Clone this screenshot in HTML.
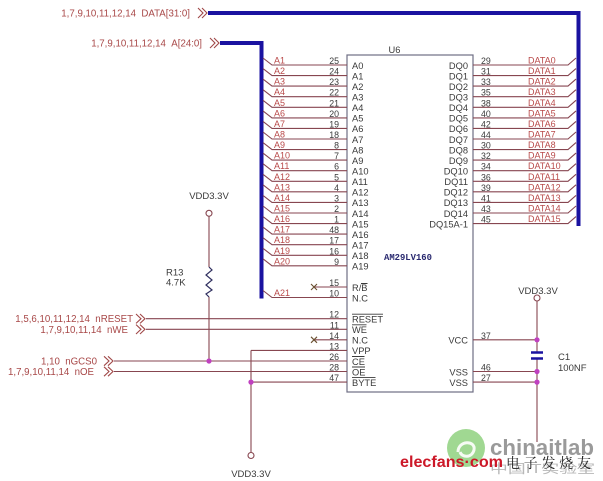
<!DOCTYPE html>
<html><head><meta charset="utf-8">
<style>
html,body{margin:0;padding:0;background:#fff;}
svg{display:block;}
text{font-family:"Liberation Sans",Arial,sans-serif;}
.net{font-size:9px;fill:#b94a4a;}
.pin{font-size:8.8px;fill:#3a3a3a;}
.lbl{font-size:9.3px;fill:#3a3a3a;}
.sig{font-size:9.7px;fill:#a84848;}
.vdd{font-size:9.5px;fill:#3a3a3a;}
</style></head>
<body>
<svg width="603" height="481" viewBox="0 0 603 481" xmlns="http://www.w3.org/2000/svg">
<rect width="603" height="481" fill="#fff"/>

<!-- Buses -->
<path d="M208,13H578.5V226" fill="none" stroke="#1a12a0" stroke-width="4"/>
<path d="M220,43H261.5V298.5" fill="none" stroke="#1a12a0" stroke-width="4"/>

<!-- bus labels & chevrons -->
<text class="sig" x="190" y="16.5" text-anchor="end">1,7,9,10,11,12,14&#160;&#160;DATA[31:0]</text>
<polyline points="198,8 203,13 198,18" fill="none" stroke="#a04848" stroke-width="1.1"/>
<polyline points="202,8 207,13 202,18" fill="none" stroke="#a04848" stroke-width="1.1"/>
<text class="sig" x="202" y="46.5" text-anchor="end">1,7,9,10,11,12,14&#160;&#160;A[24:0]</text>
<polyline points="210,38 215,43 210,48" fill="none" stroke="#a04848" stroke-width="1.1"/>
<polyline points="214,38 219,43 214,48" fill="none" stroke="#a04848" stroke-width="1.1"/>

<!-- Chip box -->
<rect x="347" y="55" width="126" height="337" fill="none" stroke="#6e6e84" stroke-width="1.2"/>
<text x="394.5" y="53" class="lbl" text-anchor="middle">U6</text>
<text x="384" y="260" style="font-family:'Liberation Mono','DejaVu Sans Mono',monospace;font-size:8.9px;font-weight:bold;fill:#2a2a70;">AM29LV160</text>

<!-- Left address wires -->
<path fill="none" stroke="#874650" stroke-width="1.1" d="
M263,58L272,65H347 M263,68.6L272,75.6H347 M263,79.1L272,86.1H347 M263,89.7L272,96.7H347
M263,100.3L272,107.3H347 M263,110.9L272,117.9H347 M263,121.4L272,128.4H347 M263,132L272,139H347
M263,142.6L272,149.6H347 M263,153.1L272,160.1H347 M263,163.7L272,170.7H347 M263,174.3L272,181.3H347
M263,184.8L272,191.8H347 M263,195.4L272,202.4H347 M263,206L272,213H347 M263,216.6L272,223.6H347
M263,227.1L272,234.1H347 M263,237.7L272,244.7H347 M263,248.3L272,255.3H347 M263,258.8L272,265.8H347
M263,290.5L272,297.5H347
M314,287H347 M314,339.8H347
M146,318.7H347 M146,329.3H347
M114,361H347 M114,371.5H347
M251,350.4H347 M251,382.1H347 M251,350.4V452.5
M209,216.5V267 M209,297V361
"/>

<!-- X marks -->
<path d="M311,284L317,290M311,290L317,284 M311,336.8L317,342.8M311,342.8L317,336.8" stroke="#6a5030" stroke-width="1.1" fill="none"/>

<!-- Left net labels -->
<g class="net">
<text x="274" y="63.5">A1</text><text x="274" y="74.1">A2</text><text x="274" y="84.6">A3</text><text x="274" y="95.2">A4</text>
<text x="274" y="105.8">A5</text><text x="274" y="116.4">A6</text><text x="274" y="126.9">A7</text><text x="274" y="137.5">A8</text>
<text x="274" y="148.1">A9</text><text x="274" y="158.6">A10</text><text x="274" y="169.2">A11</text><text x="274" y="179.8">A12</text>
<text x="274" y="190.3">A13</text><text x="274" y="200.9">A14</text><text x="274" y="211.5">A15</text><text x="274" y="222.1">A16</text>
<text x="274" y="232.6">A17</text><text x="274" y="243.2">A18</text><text x="274" y="253.8">A19</text><text x="274" y="264.3">A20</text>
<text x="274" y="296">A21</text>
</g>

<!-- Left pin numbers -->
<g class="pin" text-anchor="end">
<text x="339" y="64">25</text><text x="339" y="74.6">24</text><text x="339" y="85.1">23</text><text x="339" y="95.7">22</text>
<text x="339" y="106.3">21</text><text x="339" y="116.9">20</text><text x="339" y="127.4">19</text><text x="339" y="138">18</text>
<text x="339" y="148.6">8</text><text x="339" y="159.1">7</text><text x="339" y="169.7">6</text><text x="339" y="180.3">5</text>
<text x="339" y="190.8">4</text><text x="339" y="201.4">3</text><text x="339" y="212">2</text><text x="339" y="222.6">1</text>
<text x="339" y="233.1">48</text><text x="339" y="243.7">17</text><text x="339" y="254.3">16</text><text x="339" y="264.8">9</text>
<text x="339" y="286">15</text><text x="339" y="296.5">10</text>
<text x="339" y="317.7">12</text><text x="339" y="328.3">11</text><text x="339" y="338.8">14</text><text x="339" y="349.4">13</text>
<text x="339" y="360">26</text><text x="339" y="370.5">28</text><text x="339" y="381.1">47</text>
</g>

<!-- Left box labels -->
<g class="lbl">
<text x="352" y="68.8">A0</text><text x="352" y="79.4">A1</text><text x="352" y="89.9">A2</text><text x="352" y="100.5">A3</text>
<text x="352" y="111.1">A4</text><text x="352" y="121.7">A5</text><text x="352" y="132.2">A6</text><text x="352" y="142.8">A7</text>
<text x="352" y="153.4">A8</text><text x="352" y="163.9">A9</text><text x="352" y="174.5">A10</text><text x="352" y="185.1">A11</text>
<text x="352" y="195.6">A12</text><text x="352" y="206.2">A13</text><text x="352" y="216.8">A14</text><text x="352" y="227.4">A15</text>
<text x="352" y="237.9">A16</text><text x="352" y="248.5">A17</text><text x="352" y="259.1">A18</text><text x="352" y="269.6">A19</text>
<text x="352" y="290.8">R/B</text><text x="352" y="301.3">N.C</text>
<text x="352" y="322.5">RESET</text><text x="352" y="333.1">WE</text><text x="352" y="343.6">N.C</text><text x="352" y="354.2">VPP</text>
<text x="352" y="364.8">CE</text><text x="352" y="375.3">OE</text><text x="352" y="385.9">BYTE</text>
</g>
<!-- overlines -->
<path stroke="#3a3a3a" stroke-width="0.9" fill="none" d="M361,283.5H367.5 M352,314.2H383 M352,324.8H366.5 M352,356.5H364.5 M352,367H365 M352,377.6H375.5"/>

<!-- Right data wires -->
<path fill="none" stroke="#874650" stroke-width="1.1" d="
M473,65H568L576,58 M473,75.6H568L576,68.6 M473,86.1H568L576,79.1 M473,96.7H568L576,89.7
M473,107.3H568L576,100.3 M473,117.9H568L576,110.9 M473,128.4H568L576,121.4 M473,139H568L576,132
M473,149.6H568L576,142.6 M473,160.1H568L576,153.1 M473,170.7H568L576,163.7 M473,181.3H568L576,174.3
M473,191.8H568L576,184.8 M473,202.4H568L576,195.4 M473,213H568L576,206 M473,223.6H568L576,216.6
M473,339.8H537 M473,371.5H537 M473,382.1H537
M537,301V351.5 M537,359.5V442
"/>

<g class="lbl" text-anchor="end">
<text x="468" y="68.8">DQ0</text><text x="468" y="79.4">DQ1</text><text x="468" y="89.9">DQ2</text><text x="468" y="100.5">DQ3</text>
<text x="468" y="111.1">DQ4</text><text x="468" y="121.7">DQ5</text><text x="468" y="132.2">DQ6</text><text x="468" y="142.8">DQ7</text>
<text x="468" y="153.4">DQ8</text><text x="468" y="163.9">DQ9</text><text x="468" y="174.5">DQ10</text><text x="468" y="185.1">DQ11</text>
<text x="468" y="195.6">DQ12</text><text x="468" y="206.2">DQ13</text><text x="468" y="216.8">DQ14</text><text x="468" y="227.4">DQ15A-1</text>
<text x="468" y="343.6">VCC</text><text x="468" y="375.3">VSS</text><text x="468" y="385.9">VSS</text>
</g>
<g class="pin">
<text x="481" y="64">29</text><text x="481" y="74.6">31</text><text x="481" y="85.1">33</text><text x="481" y="95.7">35</text>
<text x="481" y="106.3">38</text><text x="481" y="116.9">40</text><text x="481" y="127.4">42</text><text x="481" y="138">44</text>
<text x="481" y="148.6">30</text><text x="481" y="159.1">32</text><text x="481" y="169.7">34</text><text x="481" y="180.3">36</text>
<text x="481" y="190.8">39</text><text x="481" y="201.4">41</text><text x="481" y="212">43</text><text x="481" y="222.6">45</text>
<text x="481" y="338.8">37</text><text x="481" y="370.5">46</text><text x="481" y="381.1">27</text>
</g>
<g class="net">
<text x="528" y="63.5">DATA0</text><text x="528" y="74.1">DATA1</text><text x="528" y="84.6">DATA2</text><text x="528" y="95.2">DATA3</text>
<text x="528" y="105.8">DATA4</text><text x="528" y="116.4">DATA5</text><text x="528" y="126.9">DATA6</text><text x="528" y="137.5">DATA7</text>
<text x="528" y="148.1">DATA8</text><text x="528" y="158.6">DATA9</text><text x="528" y="169.2">DATA10</text><text x="528" y="179.8">DATA11</text>
<text x="528" y="190.3">DATA12</text><text x="528" y="200.9">DATA13</text><text x="528" y="211.5">DATA14</text><text x="528" y="222.1">DATA15</text>
</g>

<!-- Capacitor -->
<path d="M531,352.5H543 M531,358.5H543" stroke="#1a12a0" stroke-width="2.6"/>
<text class="vdd" x="558" y="360">C1</text>
<text class="vdd" x="558" y="371">100NF</text>
<circle cx="537" cy="298" r="3" fill="#fff" stroke="#874650" stroke-width="1.1"/>
<text class="vdd" x="538" y="294" text-anchor="middle">VDD3.3V</text>

<!-- R13 -->
<text class="vdd" x="209" y="199" text-anchor="middle">VDD3.3V</text>
<circle cx="209" cy="213.3" r="3" fill="#fff" stroke="#874650" stroke-width="1.1"/>
<polyline points="209,267 212,270 206,275 212,280 206,285 212,290 206,294 209,297" fill="none" stroke="#303060" stroke-width="1.2"/>
<text class="vdd" x="166" y="275.5">R13</text>
<text class="vdd" x="166" y="285.5">4.7K</text>

<!-- bottom VDD -->
<circle cx="251" cy="455.5" r="3" fill="#fff" stroke="#874650" stroke-width="1.1"/>
<text class="vdd" x="251" y="477" text-anchor="middle">VDD3.3V</text>

<!-- Left signals -->
<text class="sig" x="133" y="322.2" text-anchor="end">1,5,6,10,11,12,14&#160;&#160;nRESET</text>
<polyline points="136,314 141,318.7 136,323.4" fill="none" stroke="#a04848" stroke-width="1.1"/>
<polyline points="140,314 145,318.7 140,323.4" fill="none" stroke="#a04848" stroke-width="1.1"/>
<text class="sig" x="128" y="332.8" text-anchor="end">1,7,9,10,11,14&#160;&#160;nWE</text>
<polyline points="136,324.6 141,329.3 136,334" fill="none" stroke="#a04848" stroke-width="1.1"/>
<polyline points="140,324.6 145,329.3 140,334" fill="none" stroke="#a04848" stroke-width="1.1"/>
<text class="sig" x="97" y="364.5" text-anchor="end">1,10&#160;&#160;nGCS0</text>
<polyline points="104,356.3 109,361 104,365.7" fill="none" stroke="#a04848" stroke-width="1.1"/>
<polyline points="108,356.3 113,361 108,365.7" fill="none" stroke="#a04848" stroke-width="1.1"/>
<text class="sig" x="94" y="375" text-anchor="end">1,7,9,10,11,14&#160;&#160;nOE</text>
<polyline points="104,366.8 109,371.5 104,376.2" fill="none" stroke="#a04848" stroke-width="1.1"/>
<polyline points="108,366.8 113,371.5 108,376.2" fill="none" stroke="#a04848" stroke-width="1.1"/>

<!-- junction dots -->
<g fill="#c040c0">
<circle cx="209" cy="361" r="2.6"/>
<circle cx="251" cy="382.1" r="2.6"/>
<circle cx="537" cy="339.8" r="2.6"/>
<circle cx="537" cy="371.5" r="2.6"/>
<circle cx="537" cy="382.1" r="2.6"/>
</g>

<!-- Logo -->
<circle cx="466" cy="448" r="19" fill="#8fd17f" opacity="0.85"/>
<path d="M458,452 C458,440 476,440 474,450 C472,458 462,458 460,452" fill="none" stroke="#fff" stroke-width="3" opacity="0.9"/>
<text x="490" y="455" textLength="104" lengthAdjust="spacingAndGlyphs" style="font-size:22px;font-weight:bold;fill:#9a9a9a;">chinaitlab</text>
<text x="490" y="473" textLength="105" lengthAdjust="spacingAndGlyphs" style="font-family:'Liberation Sans','Noto Sans CJK SC',sans-serif;font-size:12.5px;fill:#b8b8b8;">中国IT实验室</text>
<text x="400" y="467" textLength="103" lengthAdjust="spacingAndGlyphs" style="font-size:16px;font-weight:bold;fill:#cc1828;">elecfans·com</text>
<text x="506" y="468" textLength="85" lengthAdjust="spacing" style="font-family:'Liberation Serif','Noto Serif CJK SC',serif;font-size:14px;fill:#222;">电子发烧友</text>
</svg>
</body></html>
